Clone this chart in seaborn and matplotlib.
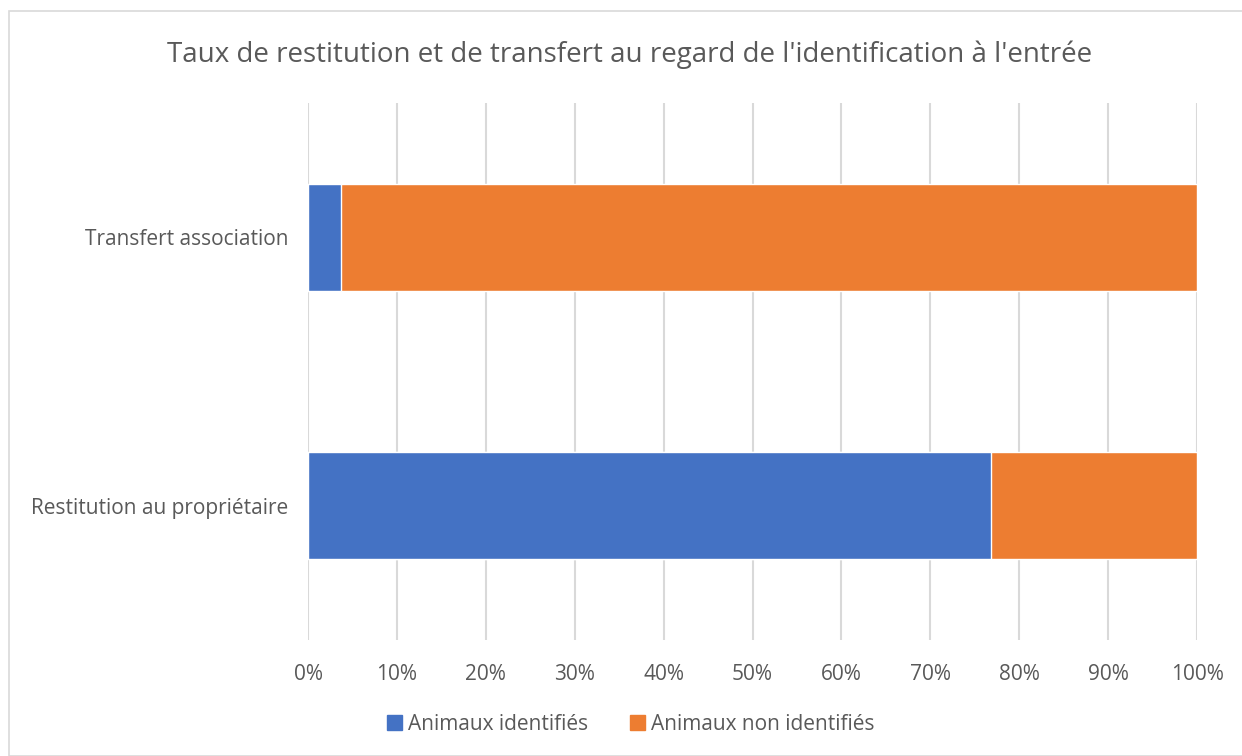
import pandas as pd
import matplotlib.pyplot as plt
import seaborn as sns
from matplotlib.patches import Rectangle, Patch
from matplotlib.ticker import PercentFormatter

categories = ["Transfert association", "Restitution au propriétaire"]
identifies = [3.7, 76.8]
non_identifies = [96.3, 23.2]
ticks = [0, 10, 20, 30, 40, 50, 60, 70, 80, 90, 100]

df = pd.DataFrame({"categorie": categories,
                   "identifies": identifies,
                   "non_identifies": non_identifies})
df["total"] = df["identifies"] + df["non_identifies"]

sns.set_style("white")
plt.rcParams["font.family"] = ["Open Sans", "DejaVu Sans"]
grey = "#595959"
blue = "#4472C4"
orange = "#ED7D31"

fig = plt.figure(figsize=(12.42, 7.56), dpi=100)
ax = fig.add_axes([0.248, 0.1534, 0.7158, 0.7104])

sns.barplot(data=df, y="categorie", x="total", color=orange, orient="h",
            width=0.4, ax=ax, saturation=1, zorder=3)
sns.barplot(data=df, y="categorie", x="identifies", color=blue, orient="h",
            width=0.4, ax=ax, saturation=1, zorder=4)

ax.set_xlim(0, 100)
ax.set_ylim(1.5, -0.5)
ax.set_xticks(ticks)
ax.xaxis.set_major_formatter(PercentFormatter(decimals=0))
ax.grid(axis="x", color="#d9d9d9", linewidth=1.5, zorder=0)
ax.set_axisbelow(True)
for s in ax.spines.values():
    s.set_visible(False)
ax.set_xlabel("")
ax.set_ylabel("")
ax.tick_params(axis="both", length=0, labelsize=15, colors=grey)
ax.tick_params(axis="x", pad=17)
ax.tick_params(axis="y", pad=14)

fig.suptitle("Taux de restitution et de transfert au regard de l'identification à l'entrée",
             x=0.507, y=0.947, fontsize=20, color=grey)

handles = [Patch(color=blue, label="Animaux identifiés"),
           Patch(color=orange, label="Animaux non identifiés")]
fig.legend(handles=handles, loc="center", bbox_to_anchor=(0.508, 0.042), ncol=2,
           frameon=False, fontsize=15, labelcolor=grey, handlelength=0.7,
           handleheight=0.7, handletextpad=0.3, columnspacing=2.0)

fig.patches.append(Rectangle((9 / 1242, 0), 1.1, 1 - 11 / 756, transform=fig.transFigure,
                             fill=False, edgecolor="#d9d9d9", linewidth=1.2))

fig.savefig("out.png", dpi=100)
